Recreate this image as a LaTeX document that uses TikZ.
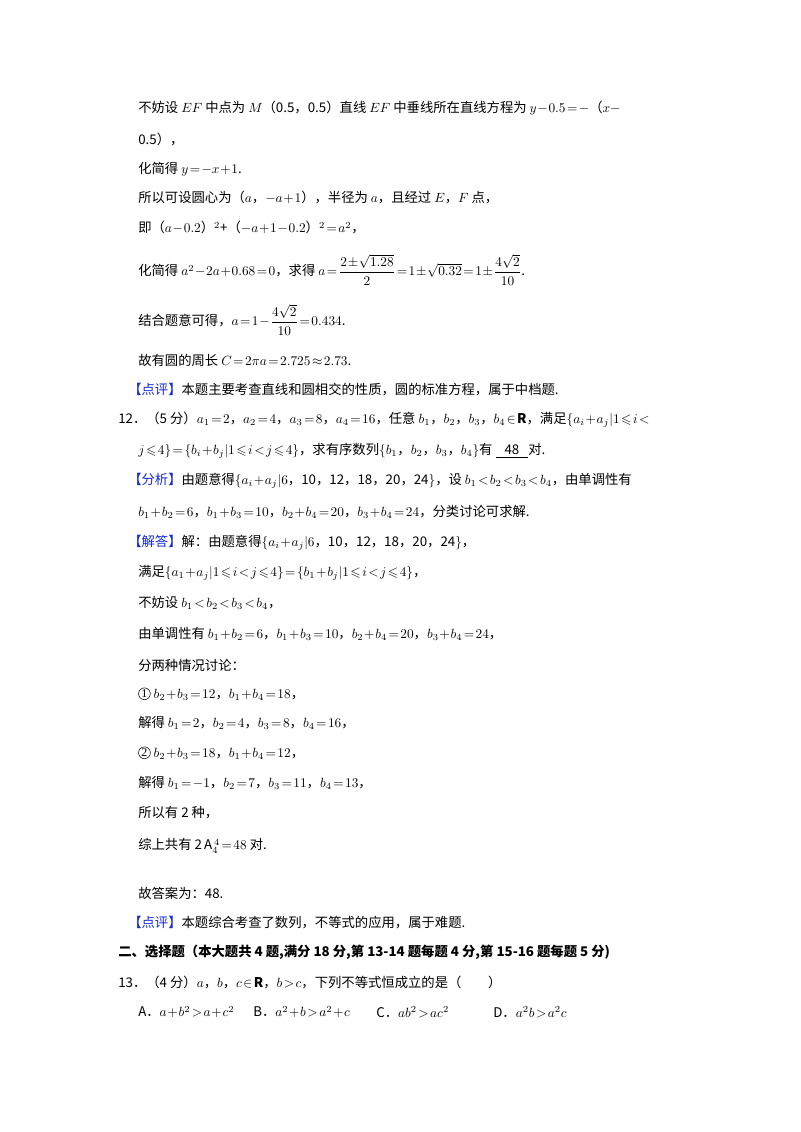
\documentclass[tikz,border=0pt]{standalone}
\usepackage{amsmath}
\usepackage{amssymb}
\usepackage{fontspec}
\setmainfont{Noto Sans CJK SC}
\newfontfamily\lat{Liberation Serif}
\definecolor{tagblue}{RGB}{20,40,220}
\newcommand\tagb[1]{{\color{tagblue}【#1】}}
\newcommand\cir[1]{\tikz[baseline=-0.35em]\node[circle,draw,inner sep=0.5pt,font=\lat\small]{#1};}
\newcommand\tight{\medmuskip=1mu\thickmuskip=2mu}
\begin{document}
\begin{tikzpicture}[x=0.75pt,y=-0.75pt,every node/.style={anchor=west,inner sep=0pt,font=\fontsize{10}{12}\selectfont\tight}]
\useasboundingbox[fill=white] (0,0) rectangle (800,1132);
\node (l1) at (138,108) {不妨设 $EF$ 中点为 $M$（0.5，0.5）直线 $EF$ 中垂线所在直线方程为 $y-0.5=-$（$x-$};
\node (l2) at (138,140) {0.5），};
\node (l3) at (138,169) {化简得 $y=-x+1$.};
\node (l4) at (138,198) {所以可设圆心为（$a$，$-a+1$），半径为 $a$，且经过 $E$，$F$ 点，};
\node (l5) at (138,228) {即（$a-0.2$）$^2$+（$-a+1-0.2$）$^2=a^2$，};
\node (l6) at (138,270) {化简得 $a^2-2a+0.68=0$，求得 $a=\dfrac{2\pm\sqrt{1.28}}{2}=1\pm\sqrt{0.32}=1\pm\dfrac{4\sqrt2}{10}$.};
\node (l7) at (138,320) {结合题意可得，$a=1-\dfrac{4\sqrt2}{10}=0.434$.};
\node (l8) at (138,360) {故有圆的周长 $C=2\pi a=2.725\approx2.73$.};
\node (l9) at (128,390) {\tagb{点评}本题主要考查直线和圆相交的性质，圆的标准方程，属于中档题.};
\node (q12) at (118,420) {12．（5 分）$a_1=2$，$a_2=4$，$a_3=8$，$a_4=16$，任意 $b_1$，$b_2$，$b_3$，$b_4\in\mathbf R$，满足$\{a_i+a_j|1\leqslant i<$};
\node (q12b) at (138,451) {$j\leqslant4\}=\{b_i+b_j|1\leqslant i<j\leqslant4\}$，求有序数列$\{b_1$，$b_2$，$b_3$，$b_4\}$有 \underline{\ \ \ 48\ \ \ }对.};
\node (fx) at (128,481) {\tagb{分析}由题意得$\{a_i+a_j|6$，10，12，18，20，24$\}$，设 $b_1<b_2<b_3<b_4$，由单调性有};
\node (fx2) at (138,512) {$b_1+b_2=6$，$b_1+b_3=10$，$b_2+b_4=20$，$b_3+b_4=24$，分类讨论可求解.};
\node (jd) at (128,543) {\tagb{解答}解：由题意得$\{a_i+a_j|6$，10，12，18，20，24$\}$，};
\node (s1) at (138,573) {满足$\{a_1+a_j|1\leqslant i<j\leqslant4\}=\{b_1+b_j|1\leqslant i<j\leqslant4\}$，};
\node (s2) at (138,603) {不妨设 $b_1<b_2<b_3<b_4$，};
\node (s3) at (138,634) {由单调性有 $b_1+b_2=6$，$b_1+b_3=10$，$b_2+b_4=20$，$b_3+b_4=24$，};
\node (s4) at (138,665) {分两种情况讨论：};
\node (s5) at (138,694) {\cir{1} $b_2+b_3=12$，$b_1+b_4=18$，};
\node (s6) at (138,723) {解得 $b_1=2$，$b_2=4$，$b_3=8$，$b_4=16$，};
\node (s7) at (138,753) {\cir{2} $b_2+b_3=18$，$b_1+b_4=12$，};
\node (s8) at (138,783) {解得 $b_1=-1$，$b_2=7$，$b_3=11$，$b_4=13$，};
\node (s9) at (138,813) {所以有 2 种，};
\node (s10) at (138,846) {综上共有 2\,$\mathrm{A}_4^{\,4}=48$ 对.};
\node (s11) at (138,893) {故答案为：48.};
\node (dp) at (128,923) {\tagb{点评}本题综合考查了数列，不等式的应用，属于难题.};
\node (h2) at (118,952) {\textbf{二、选择题（本大题共 4 题,满分 18 分,第 13-14 题每题 4 分,第 15-16 题每题 5 分)}};
\node (q13) at (118,982) {13．（4 分）$a$，$b$，$c\in\mathbf R$，$b>c$，下列不等式恒成立的是（\qquad）};
\node (oA) at (138,1012) {A．$a+b^2>a+c^2$};
\node (oB) at (253,1012) {B．$a^2+b>a^2+c$};
\node (oC) at (376,1012) {C．$ab^2>ac^2$};
\node (oD) at (493,1012) {D．$a^2b>a^2c$};
\end{tikzpicture}
\end{document}
